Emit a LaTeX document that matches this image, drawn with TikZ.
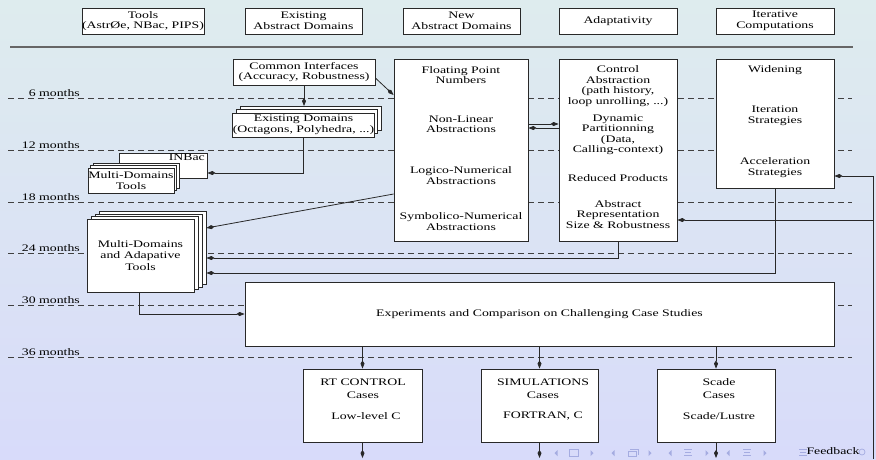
\documentclass[tikz,border=0pt]{standalone}
\usepackage{fontspec}
\setmainfont[FakeStretch=1.38]{Liberation Serif}
\usetikzlibrary{arrows.meta,calc}
\definecolor{bgtop}{RGB}{222,236,238}
\definecolor{bgbot}{RGB}{216,219,250}
\definecolor{navc}{RGB}{165,172,225}
\definecolor{linec}{RGB}{40,40,40}
\begin{document}
\begin{tikzpicture}[x=1pt,y=-1pt,
  every node/.style={font=\fontsize{10}{10.6}\selectfont, inner sep=0pt},
  box/.style={draw=linec, line width=0.8pt, fill=white, align=center},
  hbox/.style={box, minimum width=118pt, minimum height=26pt},
  txt/.style={align=center},
  conn/.style={draw=linec, line width=0.8pt, -{Kite[length=8pt,width=4pt,inset=3pt]}},
  plain/.style={draw=linec, line width=0.8pt},
  month/.style={draw=black!75, line width=0.6pt, dash pattern=on 6pt off 4pt},
  mlabel/.style={anchor=base east},
  nav/.style={navc, line width=0.7pt}
]
\shade[top color=bgtop, bottom color=bgbot] (0,0) rectangle (876,459);
\useasboundingbox (0,0) rectangle (876,459);

% navigation symbols
\foreach \x in {556,613,670,728} \fill[navc] (\x+1.5,450) -- (\x-1.5,453) -- (\x+1.5,456) -- cycle;
\foreach \x in {592,650,707,765} \fill[navc] (\x-1.5,450) -- (\x+1.5,453) -- (\x-1.5,456) -- cycle;
\draw[nav] (569,449.5) rectangle (578,456);
\draw[nav] (628,451) rectangle (636,456.5);
\draw[nav] (630,449) -- (638,449) -- (638,454.5);
\foreach \x in {688,747,803} {\draw[nav] (\x-4,449.5) -- (\x+4,449.5); \draw[nav] (\x-3,452.5) -- (\x+3,452.5); \draw[nav] (\x-4,455.5) -- (\x+4,455.5);}
\draw[nav] (862,452) circle (3);

% separator
\draw[black!60, line width=1.3pt] (10,47) -- (853,47);

% month lines
\foreach \y/\m in {98/6,150/12,202/18,253/24,305/30,357/36} {
  \draw[month] (8,\y) -- (852,\y);
  \node[mlabel] (m\m) at (80,\y-1.8) {\m{} months};
}

% header
\node[hbox, minimum width=120pt] (hTools) at (143,21) {Tools\\(AstrØe, NBac, PIPS)};
\node[hbox, minimum width=117pt] (hExist) at (303.5,21) {Existing\\Abstract Domains};
\node[hbox, minimum width=117pt] (hNew) at (461.5,21) {New\\Abstract Domains};
\node[hbox] (hAdapt) at (618,21) {Adaptativity};
\node[hbox] (hIter) at (775,21) {Iterative\\Computations};

% common interfaces
\node[box, minimum width=142pt, minimum height=26pt] (ci) at (304,72) {Common Interfaces\\(Accuracy, Robustness)};

% existing domains stack
\node[box, minimum width=141pt, minimum height=24pt] (exd2) at (310.5,118.4) {};
\node[box, minimum width=141pt, minimum height=24pt] (exd1) at (307,121.7) {};
\node[box, minimum width=141pt, minimum height=24pt] (exd) at (303.5,125) {Existing Domains\\(Octagons, Polyhedra, ...)};

% INBac and multi-domains tools
\node[box, minimum width=88pt, minimum height=25pt] (inbac) at (163,165.5) {};
\node[anchor=base east] (inbact) at (205,160.5) {INBac};
\node[box, minimum width=86pt, minimum height=25pt] (mdt2) at (136,175.7) {};
\node[box, minimum width=86pt, minimum height=25pt] (mdt1) at (133.5,178.1) {};
\node[box, minimum width=86pt, minimum height=25pt] (mdt) at (131,180.5) {Multi-Domains\\Tools};

% multi-domains and adaptive tools
\node[box, minimum width=107pt, minimum height=73pt] (mda3) at (152.5,248.3) {};
\node[box, minimum width=107pt, minimum height=73pt] (mda2) at (148.5,250.7) {};
\node[box, minimum width=107pt, minimum height=73pt] (mda1) at (144.5,253.1) {};
\node[box, minimum width=107pt, minimum height=73pt] (mda) at (140.5,255.5) {Multi-Domains\\[0.8pt]and Adapative\\[0.8pt]Tools};

% new abstract domains column
\node[box, minimum width=134pt, minimum height=182pt] (fp) at (461,150) {};
\node[txt] (fp1) at (461,75) {Floating Point\\Numbers};
\node[txt] (fp2) at (461,124.3) {Non-Linear\\Abstractions};
\node[txt] (fp3) at (461,175.7) {Logico-Numerical\\Abstractions};
\node[txt] (fp4) at (461,221.7) {Symbolico-Numerical\\Abstractions};

% adaptativity column
\node[box, minimum width=118pt, minimum height=182pt] (ctrl) at (618,150) {};
\node[txt] (c1) at (618,86) {Control\\Abstraction\\(path history,\\loop unrolling, ...)};
\node[txt] (c2) at (618,134.7) {Dynamic\\Partitionning\\(Data,\\Calling-context)};
\node[txt] (c3) at (618,178.3) {Reduced Products};
\node[txt] (c4) at (618,214.5) {Abstract\\Representation\\Size \& Robustness};

% iterative column
\node[box, minimum width=118pt, minimum height=129pt] (wid) at (775,123.5) {};
\node[txt] (w1) at (775,70.5) {Widening};
\node[txt] (w2) at (775,116) {Iteration\\Strategies};
\node[txt] (w3) at (775,167.7) {Acceleration\\Strategies};

% experiments
\node[box, minimum width=589pt, minimum height=64pt] (exp) at (539.5,314) {Experiments and Comparison on Challenging Case Studies};

% case boxes
\node[box, minimum width=119pt, minimum height=73pt] (rt) at (362.5,405.5) {};
\node[txt] (rt1) at (363,382) {RT CONTROL};
\node[txt] (rt2) at (363,395) {Cases};
\node[txt] (rt3) at (366,416) {Low-level C};
\node[box, minimum width=117pt, minimum height=73pt] (sim) at (539.5,405.5) {};
\node[txt] (sim1) at (543,382) {SIMULATIONS};
\node[txt] (sim2) at (543,395) {Cases};
\node[txt] (sim3) at (543,416) {FORTRAN, C};
\node[box, minimum width=118pt, minimum height=73pt] (scade) at (716,405.5) {};
\node[txt] (sc1) at (719,382) {Scade};
\node[txt] (sc2) at (719,395) {Cases};
\node[txt] (sc3) at (719,416) {Scade/Lustre};

% connectors
\draw[conn] (ci.south) -- (ci.south |- exd2.north);
\draw[conn] ($(ci.east)+(0,6)$) -- ($(fp.west)+(0,-55)$);
\draw[conn] ($(fp.east)+(0,-26)$) -- ($(ctrl.west)+(0,-26)$);
\draw[conn] ($(ctrl.west)+(0,-22)$) -- ($(fp.east)+(0,-22)$);
\draw[conn] (exd.south) |- ($(inbac.east)+(0,7.5)$);
\draw[conn] ($(fp.west)+(0,44)$) -- ($(mda3.east)+(0,-20.3)$);
\draw[conn] (ctrl.south) |- ($(mda3.east)+(0,9.7)$);
\draw[conn] (wid.south) |- ($(mda3.east)+(0,24.7)$);
\draw[conn] ($(mda.south)+(-1.5,0)$) |- (exp.west);
\draw[conn] (exp.south -| rt.north) -- (rt.north);
\draw[conn] (exp.south -| sim.north) -- (sim.north);
\draw[conn] (exp.south -| scade.north) -- (scade.north);
\coordinate (rtout) at (362.5,458);
\coordinate (simout) at (539.5,458);
\coordinate (scout) at (716,458);
\draw[conn] (rt.south) -- (rtout);
\draw[conn] (sim.south) -- (simout);
\draw[conn] (scade.south) -- (scout);

% feedback
\coordinate (fbb) at (873,459);
\coordinate (fbj) at (873,220);
\draw[plain] (fbb) -- (fbj);
\draw[conn] (fbj) |- ($(wid.east)+(0,52.5)$);
\draw[conn] (fbj) -- (fbj -| ctrl.east);
\node (fbt) at (833,451) {Feedback};
\end{tikzpicture}
\end{document}
